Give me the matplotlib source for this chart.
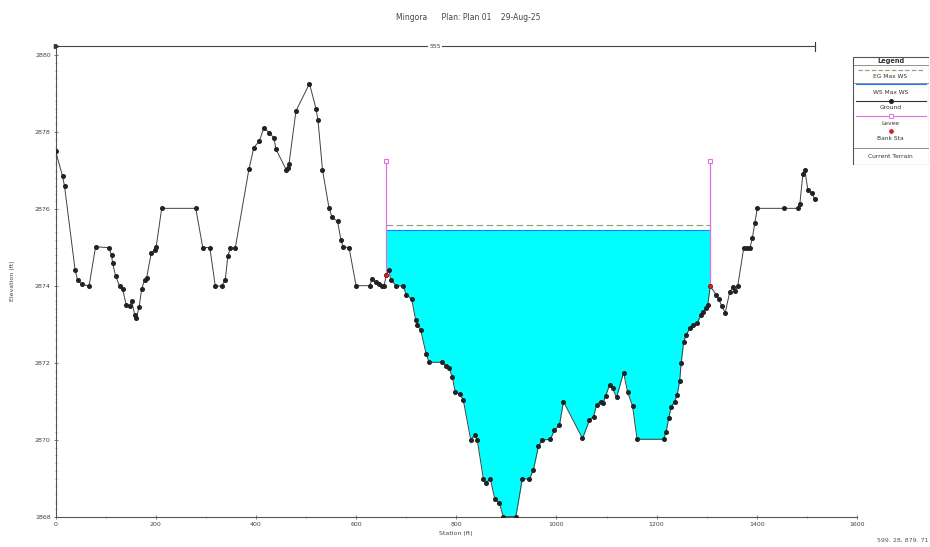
import numpy as np
import matplotlib
matplotlib.use("Agg")
import matplotlib.pyplot as plt
from matplotlib.lines import Line2D
from matplotlib.patches import Rectangle

# Cross-section ground profile
station = [0, 14, 18, 39, 44, 52, 67, 80, 106, 112, 114, 120, 128, 134, 141, 148, 152, 158, 161, 167,
           172, 178, 182, 191, 198, 201, 212, 280, 294, 308, 319, 332, 339, 344, 349, 359, 386, 396, 407,
           416, 426, 436, 440, 461, 464, 466, 480, 507, 520, 524, 533, 546, 552, 563, 570, 574, 586, 600,
           627, 632, 639, 645, 652, 656, 660, 666, 669, 680, 694, 700, 711, 719, 722, 729, 740, 746, 772,
           779, 786, 792, 798, 807, 814, 829, 837, 842, 854, 859, 868, 877, 886, 894, 919, 932, 946, 954,
           964, 972, 988, 996, 1006, 1014, 1052, 1066, 1074, 1080, 1088, 1093, 1098, 1106, 1112, 1120,
           1134, 1142, 1152, 1161, 1214, 1219, 1224, 1229, 1236, 1241, 1246, 1249, 1254, 1259, 1266,
           1272, 1281, 1288, 1292, 1299, 1302, 1307, 1319, 1324, 1330, 1337, 1346, 1352, 1357, 1362,
           1374, 1380, 1386, 1391, 1396, 1401, 1454, 1482, 1486, 1492, 1496, 1502, 1510, 1516]
elevation = [2877.51, 2876.86, 2876.60, 2874.43, 2874.16, 2874.05, 2874.00, 2875.02, 2875.00, 2874.80,
             2874.60, 2874.26, 2874.00, 2873.92, 2873.52, 2873.48, 2873.62, 2873.26, 2873.16, 2873.46,
             2873.92, 2874.17, 2874.22, 2874.85, 2874.95, 2875.02, 2876.02, 2876.02, 2875.00, 2875.00,
             2874.00, 2874.00, 2874.17, 2874.78, 2874.98, 2875.00, 2877.03, 2877.60, 2877.77, 2878.12,
             2877.99, 2877.85, 2877.56, 2877.01, 2877.08, 2877.16, 2878.55, 2879.26, 2878.61, 2878.31,
             2877.02, 2876.03, 2875.79, 2875.68, 2875.19, 2875.02, 2875.00, 2874.01, 2874.01, 2874.18,
             2874.10, 2874.05, 2874.01, 2874.00, 2874.28, 2874.42, 2874.16, 2874.01, 2874.00, 2873.78,
             2873.66, 2873.12, 2872.99, 2872.86, 2872.23, 2872.02, 2872.02, 2871.92, 2871.86, 2871.64,
             2871.25, 2871.19, 2871.04, 2870.00, 2870.13, 2870.00, 2869.00, 2868.88, 2869.00, 2868.46,
             2868.36, 2868.01, 2868.01, 2869.00, 2868.98, 2869.22, 2869.84, 2870.00, 2870.02, 2870.26,
             2870.39, 2871.00, 2870.04, 2870.52, 2870.60, 2870.91, 2871.00, 2870.96, 2871.14, 2871.43,
             2871.34, 2871.11, 2871.75, 2871.25, 2870.88, 2870.02, 2870.02, 2870.22, 2870.56, 2870.86,
             2871.00, 2871.17, 2871.54, 2872.00, 2872.55, 2872.73, 2872.90, 2873.00, 2873.03, 2873.25,
             2873.33, 2873.42, 2873.50, 2874.00, 2873.77, 2873.66, 2873.48, 2873.31, 2873.85, 2873.97,
             2873.86, 2874.01, 2875.00, 2874.99, 2874.98, 2875.24, 2875.64, 2876.02, 2876.02, 2876.02,
             2876.14, 2876.92, 2877.01, 2876.49, 2876.41, 2876.25]

ws_elev = 2875.45          # WS Max WS
eg_elev = 2875.58          # EG Max WS
bank_sta = [660, 1307]     # left / right bank stations
levee_sta = [660, 1307]
levee_elev = [2877.25, 2877.25]
reach_label = "555"

x_ticks = [0, 200, 400, 600, 800, 1000, 1200, 1400, 1600]
y_ticks = [2868, 2870, 2872, 2874, 2876, 2878, 2880]

title_text = "Mingora      Plan: Plan 01    29-Aug-25"
coord_text = "599. 28, 879. 71"

st = np.array(station, dtype=float)
el = np.array(elevation, dtype=float)

W, H = 930, 547
fig = plt.figure(figsize=(W / 100, H / 100), dpi=100)
fig.patch.set_facecolor("white")

def px(x0, y0, x1, y1):
    return [x0 / W, 1 - y1 / H, (x1 - x0) / W, (y1 - y0) / H]

ax = fig.add_axes(px(55.5, 44, 857, 517))
ax.set_xlim(0, 1600)
ax.set_ylim(2868, 2880.29)

# Water within the bank stations
mask = (st >= bank_sta[0]) & (st <= bank_sta[1])
ax.fill_between(st[mask], el[mask], ws_elev, where=el[mask] < ws_elev,
                color="#00ffff", linewidth=0, interpolate=True, zorder=1)
ax.plot([bank_sta[0], bank_sta[1]], [ws_elev, ws_elev], color="#1a7fff", lw=0.8, zorder=2)
ax.plot([bank_sta[0], bank_sta[1]], [eg_elev, eg_elev], color="#8aa070", lw=0.8,
        dashes=(6, 3), zorder=2)

# Levees
for ls, le in zip(levee_sta, levee_elev):
    g = np.interp(ls, st, el)
    ax.plot([ls, ls], [g, le], color="#e070e0", lw=0.9, zorder=3)
    ax.plot([ls], [le], marker="s", ms=3.5, mfc="white", mec="#e070e0", mew=0.8, zorder=4)

# Ground
ax.plot(st, el, color="#404040", lw=0.7, marker="o", ms=2.6, mfc="#222222", mec="#222222", zorder=5)

# Bank stations
for b in bank_sta:
    ax.plot([b], [np.interp(b, st, el)], marker="o", ms=2.2, color="#d02020", zorder=6)

# Reach extent line
ext_y = 2880.23
ax.plot([0, st[-1]], [ext_y, ext_y], color="#444444", lw=0.8, zorder=3, clip_on=False)
ax.plot([0], [ext_y], marker=">", ms=3, color="#333333", clip_on=False, zorder=4)
ax.plot([st[-1], st[-1]], [ext_y - 0.12, ext_y + 0.12], color="#333333", lw=0.8, clip_on=False)
ax.text(st[-1] / 2, ext_y, reach_label, ha="center", va="center", fontsize=4.5, color="#444444",
        bbox=dict(facecolor="white", edgecolor="none", pad=1.0), zorder=5)

for s in ["top", "right"]:
    ax.spines[s].set_visible(False)
for s in ["left", "bottom"]:
    ax.spines[s].set_color("#555555")
    ax.spines[s].set_linewidth(0.8)

ax.set_xticks(x_ticks)
ax.set_xticklabels([str(t) for t in x_ticks])
ax.set_xticks(np.arange(0, 1601, 100), minor=True)
ax.set_yticks(y_ticks)
ax.set_yticklabels([str(t) for t in y_ticks])
ax.set_yticks(np.arange(2868, 2880.3, 0.2), minor=True)
ax.tick_params(axis="both", which="major", labelsize=4.5, labelcolor="#444444", color="#666666",
               length=3, width=0.6, direction="inout", pad=2)
ax.tick_params(axis="both", which="minor", color="#888888", length=2, width=0.5, direction="inout")

ax.set_xlabel("Station (ft)", fontsize=4.5, color="#444444", labelpad=3)
ax.set_ylabel("Elevation (ft)", fontsize=4.5, color="#444444", labelpad=14)

fig.text(468 / W, 1 - 18 / H, title_text, ha="center", va="center", fontsize=5.5, color="#444444")
fig.text(928 / W, 1 - 540 / H, coord_text, ha="right", va="center", fontsize=4.5, color="#555555")

# Legend panel
lg = fig.add_axes(px(852, 56, 929, 165))
lg.set_xlim(852, 929)
lg.set_ylim(165, 56)
lg.axis("off")
lg.add_patch(Rectangle((852.5, 56.5), 76, 108, fill=False, edgecolor="#555555", lw=0.8))
cx = 890.5
fs = 4.3
lg.text(cx, 60.5, "Legend", ha="center", va="center", fontsize=4.8, color="#333333", weight="bold")
for yy in [65, 83, 148]:
    lg.plot([852.5, 928.5], [yy, yy], color="#666666", lw=0.5)
lg.plot([858, 924], [70, 70], color="#8aa070", lw=0.8, dashes=(4, 2))
lg.text(cx, 76.5, "EG Max WS", ha="center", va="center", fontsize=fs, color="#333333")
lg.plot([856, 926], [84, 84], color="#1a7fff", lw=0.8)
lg.text(cx, 92.5, "WS Max WS", ha="center", va="center", fontsize=fs, color="#333333")
lg.plot([856, 926], [101, 101], color="#333333", lw=0.8)
lg.plot([cx], [101], marker="o", ms=2.6, color="#222222")
lg.text(cx, 107.5, "Ground", ha="center", va="center", fontsize=fs, color="#333333")
lg.plot([856, 926], [116, 116], color="#e070e0", lw=0.8)
lg.plot([cx], [116], marker="s", ms=3, mfc="white", mec="#e070e0", mew=0.7)
lg.text(cx, 123.5, "Levee", ha="center", va="center", fontsize=fs, color="#333333")
lg.plot([cx], [131], marker="o", ms=2.4, color="#d02020")
lg.text(cx, 139, "Bank Sta", ha="center", va="center", fontsize=fs, color="#333333")
lg.text(cx, 157, "Current Terrain", ha="center", va="center", fontsize=fs, color="#333333")

fig.savefig("out.png", dpi=100, facecolor="white")
